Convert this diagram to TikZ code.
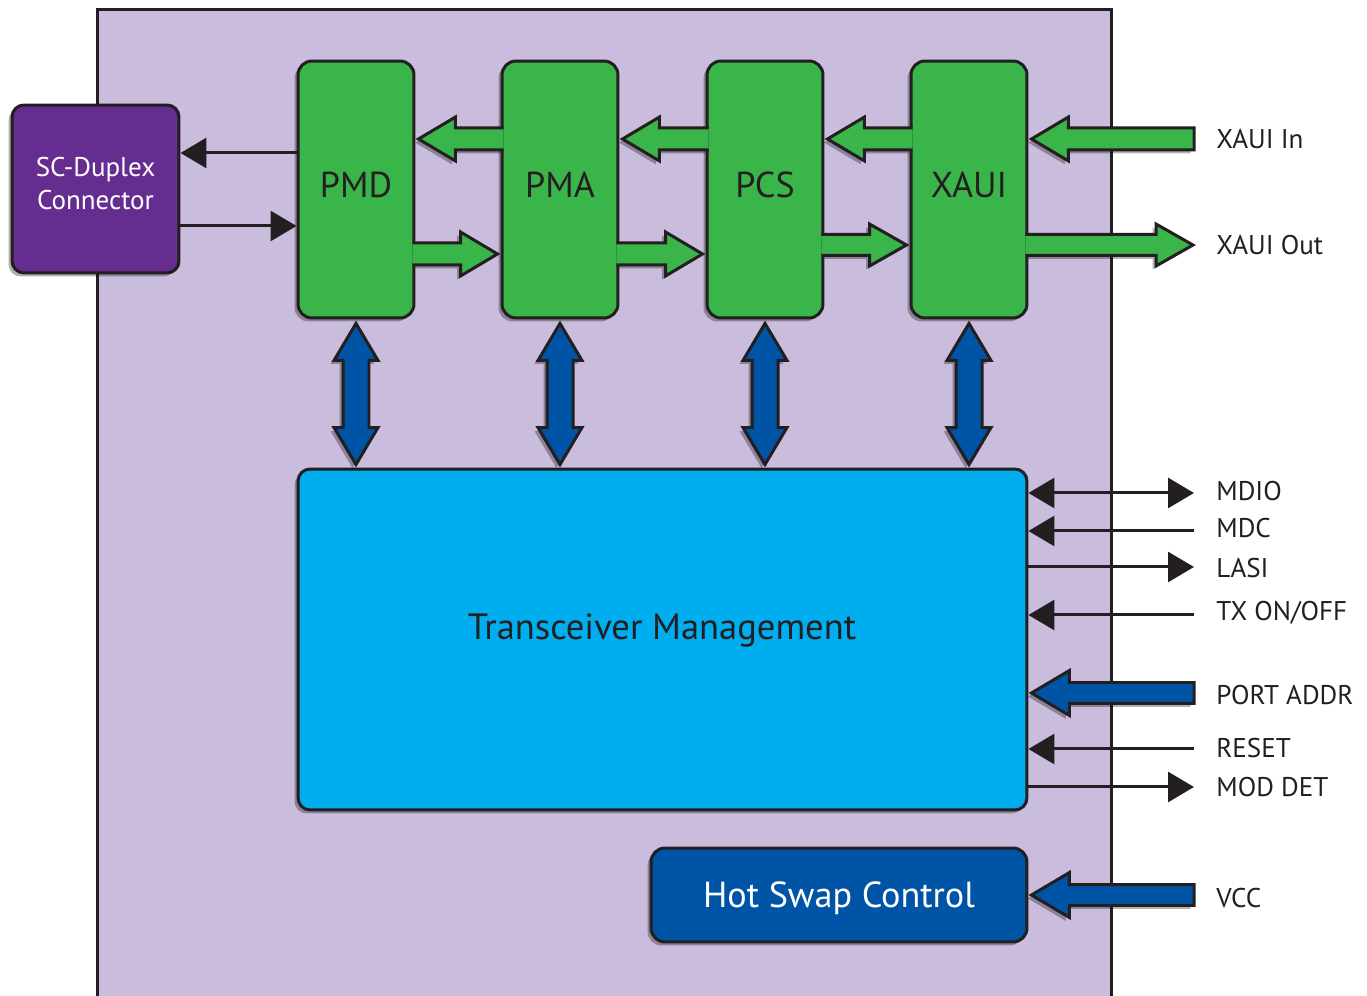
\documentclass[tikz,border=0pt]{standalone}
\usepackage{fontspec}
\setmainfont{PT Sans}
\usetikzlibrary{calc,arrows.meta,shadows}
\definecolor{bgpurple}{HTML}{C9BCDC}
\definecolor{boxgreen}{HTML}{39B54A}
\definecolor{scpurple}{HTML}{662D91}
\definecolor{tmblue}{HTML}{00AEEF}
\definecolor{hsblue}{HTML}{0054A6}
\definecolor{ink}{HTML}{231F20}
\pgfdeclarelayer{back}
\pgfdeclarelayer{ashadow}
\pgfsetlayers{back,ashadow,main}
\tikzset{
  box/.style={draw=ink, line width=0.06cm, rounded corners=0.28cm,
    drop shadow={shadow xshift=-0.07cm, shadow yshift=-0.07cm, fill=black, opacity=0.3}},
  greenbox/.style={box, fill=boxgreen, minimum width=2.32cm, minimum height=5.14cm,
    text=ink, text depth=5.7pt, font=\fontsize{20.5}{24}\selectfont},
  scbox/.style={box, fill=scpurple, minimum width=3.34cm, minimum height=3.36cm,
    rounded corners=0.24cm},
  sctext/.style={inner sep=0pt, text=white, align=center, font=\fontsize{15.4}{18.8}\selectfont},
  tmbox/.style={box, fill=tmblue, minimum width=14.58cm, minimum height=6.82cm, rounded corners=0.24cm},
  tmtext/.style={inner sep=0pt, text=ink, font=\fontsize{20.8}{24}\selectfont},
  hsbox/.style={box, fill=hsblue, minimum width=7.52cm, minimum height=1.88cm,
    text=white, text height=18pt, font=\fontsize{20.6}{24}\selectfont},
  lbl/.style={anchor=west, inner sep=0pt, text=ink, text height=10.8pt, text depth=0pt,
    font=\fontsize{15.4}{18}\selectfont},
  sig/.style={draw=ink, line width=0.06cm},
  tipR/.style={-{Triangle[length=0.52cm,width=0.6cm]}},
  tipB/.style={{Triangle[length=0.52cm,width=0.6cm]}-{Triangle[length=0.52cm,width=0.6cm]}},
  fatline/.style={draw=ink, line width=0.06cm, line join=miter},
  ashad/.style={fill=black, opacity=0.3, transform canvas={shift={(-0.07cm,-0.07cm)}}},
}
\newcommand\fatpts[5]{%
  \coordinate (fH) at ($(#2)!#5!(#1)$);
  \coordinate (fA) at ($(#1)!#3!90:(#2)$);
  \coordinate (fB) at ($(fH)!#3!90:(#2)$);
  \coordinate (fC) at ($(fH)!#4!90:(#2)$);
  \coordinate (fE) at ($(fH)!#4!-90:(#2)$);
  \coordinate (fF) at ($(fH)!#3!-90:(#2)$);
  \coordinate (fG) at ($(#1)!#3!-90:(#2)$);
  \begin{pgfonlayer}{ashadow}
    \fill[ashad] (fA) -- (fB) -- (fC) -- (#2) -- (fE) -- (fF) -- (fG) -- cycle;
  \end{pgfonlayer}}
\newcommand\fatopen[6]{%
  \fatpts{#1}{#2}{#3}{#4}{#5}%
  \fill[#6] (fA) -- (fB) -- (fC) -- (#2) -- (fE) -- (fF) -- (fG) -- cycle;
  \draw[fatline] (fA) -- (fB) -- (fC) -- (#2) -- (fE) -- (fF) -- (fG);}
\newcommand\fatclosed[6]{%
  \fatpts{#1}{#2}{#3}{#4}{#5}%
  \filldraw[fatline, fill=#6] (fA) -- (fB) -- (fC) -- (#2) -- (fE) -- (fF) -- (fG) -- cycle;}
\newcommand\fatdouble[6]{%
  \coordinate (dH1) at ($(#1)!#5!(#2)$);
  \coordinate (dH2) at ($(#2)!#5!(#1)$);
  \coordinate (dA) at ($(dH1)!#4!90:(#2)$);
  \coordinate (dB) at ($(dH1)!#3!90:(#2)$);
  \coordinate (dC) at ($(dH2)!#3!90:(#2)$);
  \coordinate (dD) at ($(dH2)!#4!90:(#2)$);
  \coordinate (dE) at ($(dH2)!#4!-90:(#2)$);
  \coordinate (dF) at ($(dH2)!#3!-90:(#2)$);
  \coordinate (dG) at ($(dH1)!#3!-90:(#2)$);
  \coordinate (dI) at ($(dH1)!#4!-90:(#2)$);
  \begin{pgfonlayer}{ashadow}
    \fill[ashad] (#1) -- (dA) -- (dB) -- (dC) -- (dD) -- (#2) -- (dE) -- (dF) -- (dG) -- (dI) -- cycle;
  \end{pgfonlayer}
  \filldraw[fatline, fill=#6] (#1) -- (dA) -- (dB) -- (dC) -- (dD) -- (#2) -- (dE) -- (dF) -- (dG) -- (dI) -- cycle;}
\begin{document}
\begin{tikzpicture}[x=0.02cm,y=-0.02cm]
\useasboundingbox (0,0) rectangle (1367,996);
\begin{pgfonlayer}{back}
  \fill[bgpurple] (97,10) rectangle (1111,1010);
  \draw[ink, line width=0.06cm] (97,1010) -- (97,10) -- (1111,10) -- (1111,1010);
\end{pgfonlayer}

% boxes
\node[scbox] (sc) at (95.5,189) {};
\node[sctext] (sclabel) at (95.5,183.5) {SC-Duplex\\Connector};
\node[greenbox] (pmd) at (356,189.5) {PMD};
\node[greenbox] (pma) at (560,189.5) {PMA};
\node[greenbox] (pcs) at (765,189.5) {PCS};
\node[greenbox] (xaui) at (969,189.5) {XAUI};
\node[tmbox] (tm) at (662.5,639.5) {};
\node[tmtext] (tmlabel) at (662,630) {Transceiver Management};
\node[hsbox] (hs) at (839,895) {Hot Swap Control};

% labels
\node[lbl] (lxin) at (1216,139) {XAUI In};
\node[lbl] (lxout) at (1216,245) {XAUI Out};
\node[lbl] (lmdio) at (1216,491) {MDIO};
\node[lbl] (lmdc) at (1216,528) {MDC};
\node[lbl] (llasi) at (1216,568) {LASI};
\node[lbl] (ltx) at (1216,611) {TX ON/OFF};
\node[lbl] (lpa) at (1216,695) {PORT ADDR};
\node[lbl] (lreset) at (1216,748) {RESET};
\node[lbl] (lmod) at (1216,787) {MOD DET};
\node[lbl] (lvcc) at (1216,898) {VCC};

% level coordinates
\coordinate (yA) at (0,139);
\coordinate (yB) at (0,254);
\coordinate (yC) at (0,245);
\coordinate (ySa) at (0,153);
\coordinate (ySb) at (0,226);

% green data arrows (leftwards)
\coordinate (g1t) at ($(pma.west |- yA)+(3,0)$);  \coordinate (g1h) at ($(pmd.east |- yA)+(3,0)$);
\coordinate (g2t) at ($(pcs.west |- yA)+(3,0)$);  \coordinate (g2h) at ($(pma.east |- yA)+(3,0)$);
\coordinate (g3t) at ($(xaui.west |- yA)+(3,0)$); \coordinate (g3h) at ($(pcs.east |- yA)+(3,0)$);
\coordinate (xin) at (1194,139);                  \coordinate (g4h) at ($(xaui.east |- yA)+(3,0)$);
\fatopen{g1t}{g1h}{0.22cm}{0.44cm}{0.74cm}{boxgreen}
\fatopen{g2t}{g2h}{0.22cm}{0.44cm}{0.74cm}{boxgreen}
\fatopen{g3t}{g3h}{0.22cm}{0.44cm}{0.74cm}{boxgreen}
\fatclosed{xin}{g4h}{0.22cm}{0.44cm}{0.74cm}{boxgreen}
% green data arrows (rightwards)
\coordinate (g5t) at ($(pmd.east |- yB)+(-3,0)$); \coordinate (g5h) at ($(pma.west |- yB)+(-3,0)$);
\coordinate (g6t) at ($(pma.east |- yB)+(-3,0)$); \coordinate (g6h) at ($(pcs.west |- yB)+(-3,0)$);
\coordinate (g7t) at ($(pcs.east |- yC)+(-3,0)$); \coordinate (g7h) at ($(xaui.west |- yC)+(-3,0)$);
\coordinate (g8t) at ($(xaui.east |- yC)+(-3,0)$); \coordinate (xout) at (1193,245);
\fatopen{g5t}{g5h}{0.22cm}{0.44cm}{0.74cm}{boxgreen}
\fatopen{g6t}{g6h}{0.22cm}{0.44cm}{0.74cm}{boxgreen}
\fatopen{g7t}{g7h}{0.21cm}{0.42cm}{0.74cm}{boxgreen}
\fatopen{g8t}{xout}{0.21cm}{0.42cm}{0.74cm}{boxgreen}

% blue management links
\foreach \b in {pmd,pma,pcs,xaui}{
  \coordinate (bt) at ($(\b.south)+(0,4)$);
  \coordinate (bb) at ($(tm.north -| \b.south)+(0,-3)$);
  \fatdouble{bt}{bb}{0.26cm}{0.44cm}{0.74cm}{hsblue}
}

% PORT ADDR and VCC
\coordinate (pa) at (1194,693); \coordinate (pah) at ($(tm.east |- pa)+(3,0)$);
\fatclosed{pa}{pah}{0.21cm}{0.45cm}{0.76cm}{hsblue}
\coordinate (vc) at (1194,895); \coordinate (vch) at ($(hs.east |- vc)+(3,0)$);
\fatclosed{vc}{vch}{0.21cm}{0.45cm}{0.76cm}{hsblue}

% SC-Duplex links
\draw[sig, tipR] (pmd.west |- ySa) -- (sc.east |- ySa);
\draw[sig, tipR] (sc.east |- ySb) -- (pmd.west |- ySb);

% management signals
\coordinate (amdio) at (1194,493);
\coordinate (amdc) at (1194,531);
\coordinate (alasi) at (1194,567);
\coordinate (atx) at (1194,615);
\coordinate (areset) at (1194,749);
\coordinate (amod) at (1194,787);
\draw[sig, tipB] (tm.east |- amdio) -- (amdio);
\draw[sig, tipR] (amdc) -- (tm.east |- amdc);
\draw[sig, tipR] (tm.east |- alasi) -- (alasi);
\draw[sig, tipR] (atx) -- (tm.east |- atx);
\draw[sig, tipR] (areset) -- (tm.east |- areset);
\draw[sig, tipR] (tm.east |- amod) -- (amod);
\end{tikzpicture}
\end{document}
